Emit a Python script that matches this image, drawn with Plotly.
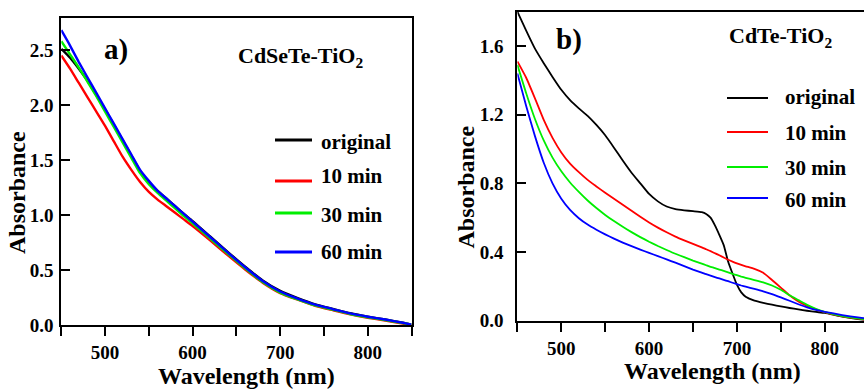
import plotly.graph_objects as go

W, H = 864, 389
FONT = "Liberation Serif, Times New Roman, Times, serif"

# ---------------- data ----------------
series_names = ["original", "10 min", "30 min", "60 min"]
series_colors = ["#000000", "#ff0000", "#00ee00", "#0000ff"]

wl_a = [450, 460, 470, 480, 490, 500, 510, 520, 530, 540, 550, 560, 570, 580, 590,
        600, 620, 640, 660, 680, 700, 720, 740, 760, 780, 800, 820, 840, 850]
a_original = [2.51, 2.43, 2.33, 2.22, 2.09, 1.96, 1.82, 1.68, 1.54, 1.40, 1.30, 1.22, 1.15, 1.08, 1.01,
              0.945, 0.805, 0.665, 0.53, 0.405, 0.31, 0.245, 0.188, 0.147, 0.107, 0.076, 0.05, 0.02, 0.003]
a_10min = [2.45, 2.33, 2.20, 2.07, 1.94, 1.81, 1.67, 1.53, 1.41, 1.30, 1.21, 1.14, 1.08, 1.02, 0.96,
           0.90, 0.77, 0.635, 0.505, 0.385, 0.29, 0.23, 0.175, 0.135, 0.097, 0.066, 0.04, 0.012, 0.0]
a_30min = [2.58, 2.46, 2.34, 2.21, 2.08, 1.94, 1.80, 1.66, 1.52, 1.38, 1.28, 1.20, 1.13, 1.06, 0.99,
           0.925, 0.785, 0.65, 0.515, 0.39, 0.295, 0.233, 0.178, 0.14, 0.10, 0.07, 0.045, 0.018, 0.003]
a_60min = [2.68, 2.54, 2.39, 2.25, 2.11, 1.97, 1.83, 1.69, 1.55, 1.41, 1.31, 1.22, 1.15, 1.08, 1.01,
           0.94, 0.80, 0.66, 0.525, 0.40, 0.305, 0.24, 0.185, 0.145, 0.105, 0.075, 0.05, 0.02, 0.003]

wl_b = [450, 460, 470, 480, 490, 500, 510, 520, 530, 540, 550, 560, 570, 580, 590, 600, 610, 620,
        630, 640, 650, 660, 665, 670, 675, 680, 685, 690, 695, 700, 705, 710, 720, 730, 740, 750,
        760, 770, 780, 790, 800, 820, 840, 850]
b_original = [1.80, 1.69, 1.585, 1.50, 1.42, 1.345, 1.285, 1.237, 1.193, 1.14, 1.08, 1.008, 0.933, 0.862,
              0.80, 0.738, 0.695, 0.665, 0.65, 0.643, 0.638, 0.632, 0.622, 0.60, 0.555, 0.50, 0.44, 0.345,
              0.275, 0.21, 0.165, 0.14, 0.117, 0.104, 0.093, 0.083, 0.074, 0.066, 0.058, 0.051, 0.045,
              0.024, 0.008, 0.003]
b_10min = [1.51, 1.415, 1.295, 1.17, 1.065, 0.98, 0.915, 0.865, 0.82, 0.782, 0.745, 0.71, 0.675, 0.64,
           0.605, 0.572, 0.542, 0.515, 0.49, 0.468, 0.447, 0.427, 0.416, 0.405, 0.393, 0.381, 0.368, 0.355,
           0.344, 0.334, 0.325, 0.317, 0.302, 0.279, 0.237, 0.193, 0.148, 0.112, 0.086, 0.066, 0.05, 0.025,
           0.01, 0.004]
b_30min = [1.49, 1.325, 1.175, 1.05, 0.95, 0.87, 0.805, 0.75, 0.70, 0.656, 0.616, 0.58, 0.547, 0.516,
           0.487, 0.46, 0.435, 0.412, 0.39, 0.37, 0.35, 0.332, 0.323, 0.314, 0.306, 0.298, 0.29, 0.282,
           0.273, 0.265, 0.257, 0.25, 0.237, 0.223, 0.205, 0.18, 0.148, 0.12, 0.092, 0.069, 0.052, 0.027,
           0.012, 0.006]
b_60min = [1.44, 1.25, 1.075, 0.92, 0.80, 0.71, 0.645, 0.597, 0.56, 0.53, 0.503, 0.478, 0.455, 0.434,
           0.414, 0.395, 0.376, 0.357, 0.338, 0.318, 0.298, 0.28, 0.271, 0.263, 0.254, 0.246, 0.238, 0.23,
           0.221, 0.213, 0.205, 0.198, 0.185, 0.171, 0.155, 0.136, 0.116, 0.096, 0.078, 0.063, 0.052, 0.033,
           0.018, 0.012]

ticks_x = [500, 600, 700, 800]
ticks_ya = [0.0, 0.5, 1.0, 1.5, 2.0, 2.5]
ticks_yb = [0.0, 0.4, 0.8, 1.2, 1.6]


def px(x):
    return x / W


def py(y):
    return 1 - y / H


fig = go.Figure()
for name, col, ys in zip(series_names, series_colors, [a_original, a_10min, a_30min, a_60min]):
    fig.add_trace(go.Scatter(x=wl_a, y=ys, mode="lines", name=name, showlegend=False,
                             line=dict(color=col, width=2.4, shape="spline", smoothing=0.5),
                             xaxis="x", yaxis="y"))
for name, col, ys in zip(series_names, series_colors, [b_original, b_10min, b_30min, b_60min]):
    fig.add_trace(go.Scatter(x=wl_b, y=ys, mode="lines", name=name, showlegend=False,
                             line=dict(color=col, width=1.8, shape="spline", smoothing=0.5),
                             xaxis="x2", yaxis="y2"))

tickfont = dict(family=FONT, size=19, color="black", weight="bold")
common_x = dict(showline=True, linecolor="black", linewidth=2, ticks="outside", ticklen=9, tickwidth=2,
                tickcolor="black", tickvals=ticks_x, ticktext=[str(v) for v in ticks_x],
                tickfont=tickfont, showgrid=False, zeroline=False, automargin=False,
                minor=dict(tickvals=[450, 550, 650, 750, 850], ticks="outside", ticklen=9,
                           tickwidth=2, tickcolor="black", showgrid=False))
common_y = dict(showline=True, linecolor="black", linewidth=2, ticks="inside", ticklen=9, tickwidth=2,
                tickcolor="black", tickfont=tickfont, showgrid=False, zeroline=False, automargin=False)

fig.update_layout(
    width=W, height=H, margin=dict(l=0, r=0, t=0, b=0),
    paper_bgcolor="white", plot_bgcolor="white", showlegend=False,
    font=dict(family=FONT),
    xaxis=dict(domain=[px(61.3), px(411.5)], range=[450, 850], anchor="y", mirror=True, **common_x),
    yaxis=dict(domain=[py(325), py(18.3)], range=[0, 2.788], anchor="x", mirror=True,
               tickvals=ticks_ya, ticktext=["%.1f" % v for v in ticks_ya], ticklabelstandoff=2, **common_y),
    xaxis2=dict(domain=[px(517.4), 1.0], range=[450, 844.8], anchor="y2", mirror=True, **common_x),
    yaxis2=dict(domain=[py(320.7), py(12)], range=[0, 1.798], anchor="x2", mirror=False,
                tickvals=ticks_yb, ticktext=["%.1f" % v for v in ticks_yb], ticklabelstandoff=8, **common_y),
)

annots = []
shapes = []


def txt(x, y, text, size, xanchor="center", angle=0):
    annots.append(dict(x=px(x), y=py(y), xref="paper", yref="paper", text=text, showarrow=False,
                       xanchor=xanchor, yanchor="middle", textangle=angle,
                       font=dict(family=FONT, size=size, color="black", weight="bold")))


# axis titles
txt(17, 193, "Absorbance", 24, angle=-90)
txt(466, 187.5, "Absorbance", 24, angle=-90)
txt(246, 376, "Wavelength (nm)", 24)
txt(712, 371, "Wavelength (nm)", 24)
# panel labels
txt(116, 49, "a)", 29)
txt(569, 39, "b)", 29)
txt(236, 57, "CdSeTe-TiO<sub>2</sub>", 22, xanchor="left")
txt(727, 37, "CdTe-TiO<sub>2</sub>", 22, xanchor="left")

# manual legends
leg_a_line_y = [140, 181, 213, 252]
leg_a_text_y = [142, 176, 215, 252]
leg_b_line_y = [98, 132, 167, 198]
leg_b_text_y = [97, 133, 168, 200]
for i, (name, col) in enumerate(zip(series_names, series_colors)):
    shapes.append(dict(type="line", xref="paper", yref="paper", x0=px(275), x1=px(312),
                       y0=py(leg_a_line_y[i]), y1=py(leg_a_line_y[i]), line=dict(color=col, width=3)))
    txt(319, leg_a_text_y[i], name, 21, xanchor="left")
    shapes.append(dict(type="line", xref="paper", yref="paper", x0=px(727), x1=px(768),
                       y0=py(leg_b_line_y[i]), y1=py(leg_b_line_y[i]), line=dict(color=col, width=2)))
    txt(783, leg_b_text_y[i], name, 21, xanchor="left")

fig.update_layout(annotations=annots, shapes=shapes)
fig.write_html("out.html", config={"displayModeBar": False},
               post_script="document.body.style.margin='0px';document.body.style.overflow='hidden';")
